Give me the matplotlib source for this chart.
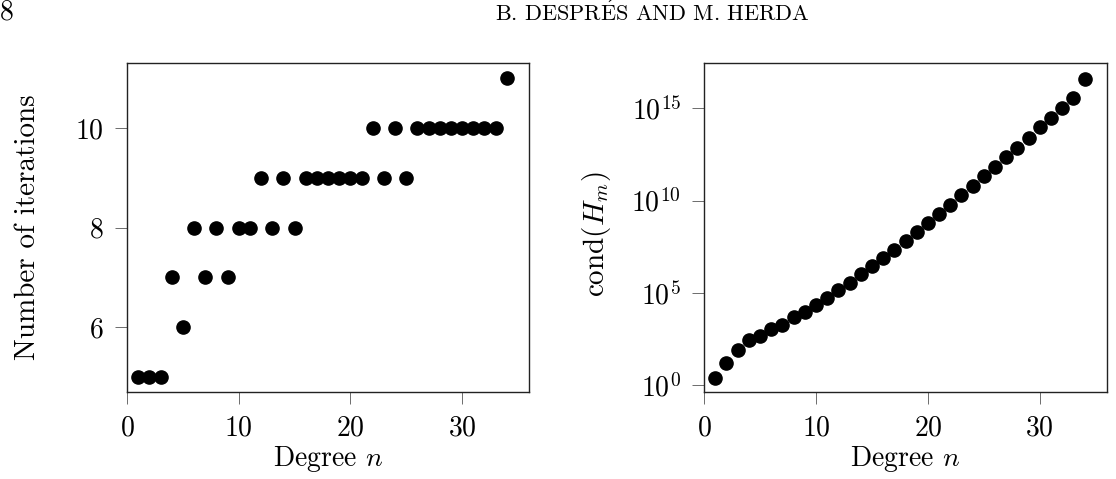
import matplotlib
matplotlib.use("Agg")
import matplotlib.pyplot as plt
import numpy as np

# ---- data ----
degree = list(range(1, 35))
iterations = [5, 5, 5, 7, 6, 8, 7, 8, 7, 8,
              8, 9, 8, 9, 8, 9, 9, 9, 9, 9,
              9, 10, 9, 10, 9, 10, 10, 10, 10, 10,
              10, 10, 10, 11]
log10_cond = [0.42, 1.21, 1.89, 2.47, 2.69, 3.07, 3.25, 3.70, 3.97, 4.37,
              4.73, 5.18, 5.56, 6.01, 6.44, 6.89, 7.35, 7.81, 8.30, 8.77,
              9.27, 9.78, 10.29, 10.81, 11.33, 11.84, 12.36, 12.87, 13.41, 13.99,
              14.49, 15.01, 15.56, 16.61]
cond = [10.0 ** v for v in log10_cond]

x_ticks = [0, 10, 20, 30]
left_yticks = [6, 8, 10]
right_yticks = [1e0, 1e5, 1e10, 1e15]
right_yticklabels = [r"$10^{0}$", r"$10^{5}$", r"$10^{10}$", r"$10^{15}$"]

header_page = "8"
header_title = r"B. DESPR$\mathrm{\acute{E}}$S AND M. HERDA"
xlabel = r"Degree $n$"
left_ylabel = "Number of iterations"
right_ylabel = r"cond$(H_m)$"

# ---- style ----
plt.rcParams["font.family"] = ["cmr10", "DejaVu Serif"]
plt.rcParams["mathtext.fontset"] = "cm"
plt.rcParams["axes.formatter.use_mathtext"] = True
plt.rcParams["axes.unicode_minus"] = False

fig = plt.figure(figsize=(11.16, 4.79), dpi=100)
ax1 = fig.add_axes([127 / 1116, 1 - 392 / 479, (529 - 127) / 1116, (392 - 63) / 479])
ax2 = fig.add_axes([704 / 1116, 1 - 392 / 479, (1107 - 704) / 1116, (392 - 63) / 479])

fs = 20
for ax in (ax1, ax2):
    ax.set_xlim(0, 36)
    ax.set_xticks(x_ticks)
    ax.tick_params(direction="out", length=8.5, width=0.6, color="#555555",
                   labelsize=fs, pad=8)
    ax.tick_params(axis="x", pad=8)
    for s in ax.spines.values():
        s.set_linewidth(1.0)
        s.set_color("#222222")
    ax.set_xlabel(xlabel, fontsize=fs, labelpad=2)

ax1.plot(degree, iterations, "o", color="black", ms=9.5, ls="none")
ax1.set_ylim(4.69, 11.31)
ax1.set_yticks(left_yticks)
ax1.set_ylabel(left_ylabel, fontsize=21)
ax1.yaxis.set_label_coords(-0.213, 0.5)

ax2.plot(degree, cond, "o", color="black", ms=9.5, ls="none")
ax2.set_yscale("log")
ax2.set_ylim(10 ** -0.36, 10 ** 17.45)
ax2.set_yticks(right_yticks)
ax2.set_yticklabels(right_yticklabels)
ax2.yaxis.set_minor_locator(matplotlib.ticker.NullLocator())
ax2.set_ylabel(right_ylabel, fontsize=21)
ax2.yaxis.set_label_coords(-0.225, 0.48)

fig.text(0.0, 1 - 20 / 479, header_page, fontsize=20, va="baseline", ha="left")
fig.text(652 / 1116, 1 - 21 / 479, header_title, fontsize=16, va="baseline", ha="center")

fig.savefig("out.png", dpi=100)
